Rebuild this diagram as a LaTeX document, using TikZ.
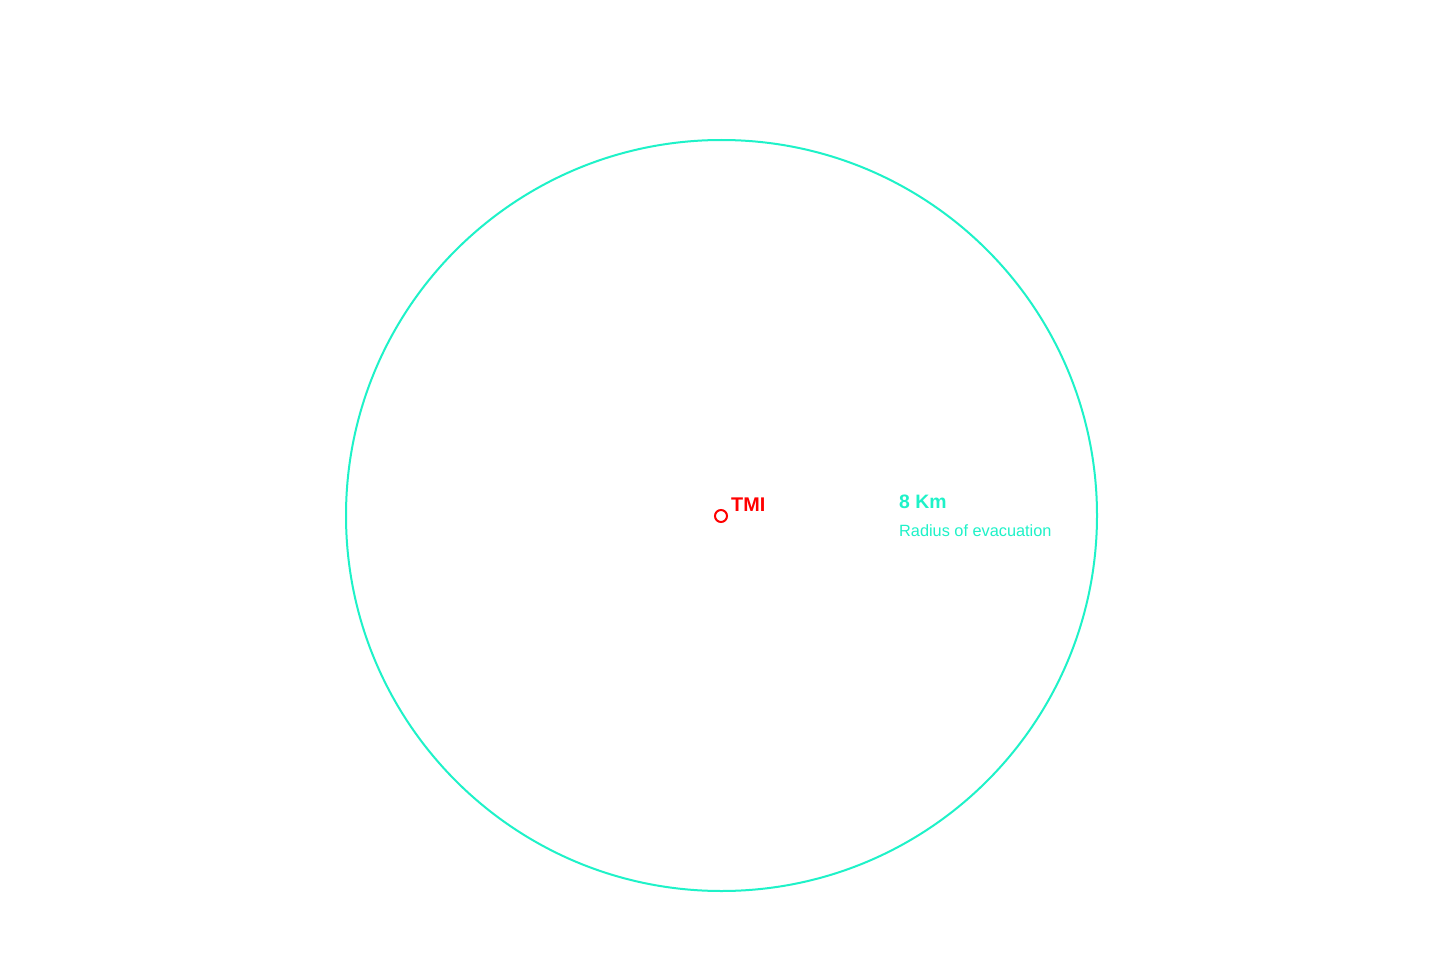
\documentclass[tikz,border=0pt]{standalone}
\usepackage{fontspec}
\setmainfont{Liberation Sans}
\definecolor{zone}{HTML}{1EF2C8}
\definecolor{plant}{HTML}{FF0000}
\tikzset{
  zonering/.style={draw=zone, line width=2pt},
  plantmark/.style={circle, draw=plant, line width=2pt, minimum size=12pt, inner sep=0pt},
  plantlabel/.style={anchor=base west, inner sep=0pt, text=plant, font=\fontsize{19.8}{20}\selectfont\bfseries},
  zonetitle/.style={anchor=base west, inner sep=0pt, text=zone, font=\fontsize{19.4}{20}\selectfont\bfseries},
  zonetext/.style={anchor=base west, inner sep=0pt, text=zone, font=\fontsize{16.3}{17}\selectfont},
}
\begin{document}
\begin{tikzpicture}[x=1pt,y=-1pt]
\useasboundingbox[fill=white] (0,0) rectangle (1440,960);
\node[circle, zonering, minimum size=751pt, inner sep=0pt] (ring) at (721.5,515.5) {};
\node[plantmark] (tmi) at (721,516) {};
\node[plantlabel] (tmilabel) at (731,511.5) {TMI};
\node[zonetitle] (km) at (899,508) {8 Km};
\node[zonetext] (radius) at (899,536) {Radius of evacuation};
\end{tikzpicture}
\end{document}
